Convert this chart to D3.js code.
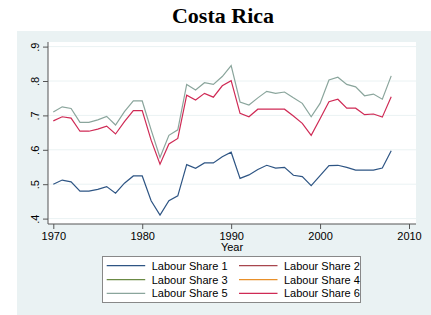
<!DOCTYPE html>
<html>
<head>
<meta charset="utf-8">
<script src="https://cdn.jsdelivr.net/npm/d3@7"></script>
<style>
  body { margin: 0; background: #fff; }
  text { font-family: "Liberation Sans", Arial, sans-serif; }
</style>
</head>
<body>
<svg id="chart" width="431" height="315"></svg>
<script>
// years 1970..2008
let years = d3.range(1970, 2009);

let share1 = [0.500, 0.512, 0.507, 0.480, 0.480, 0.485, 0.493, 0.474, 0.503, 0.524,
              0.524, 0.452, 0.410, 0.452, 0.466, 0.557, 0.546, 0.562, 0.562, 0.580,
              0.593, 0.517, 0.527, 0.543, 0.555, 0.547, 0.549, 0.526, 0.522, 0.496,
              0.525, 0.554, 0.555, 0.549, 0.541, 0.541, 0.541, 0.547, 0.597];
// shares 2-4 have no data for Costa Rica
let share2 = [];
let share3 = [];
let share4 = [];
let share5 = [0.710, 0.725, 0.720, 0.680, 0.680, 0.687, 0.697, 0.672, 0.711, 0.742,
              0.742, 0.658, 0.578, 0.642, 0.658, 0.790, 0.774, 0.795, 0.790, 0.813,
              0.845, 0.739, 0.730, 0.751, 0.770, 0.764, 0.768, 0.751, 0.735, 0.696,
              0.735, 0.803, 0.811, 0.790, 0.783, 0.757, 0.762, 0.747, 0.815];
let share6 = [0.684, 0.696, 0.692, 0.654, 0.654, 0.660, 0.669, 0.646, 0.682, 0.714,
              0.714, 0.628, 0.558, 0.617, 0.633, 0.759, 0.745, 0.764, 0.753, 0.786,
              0.801, 0.706, 0.696, 0.718, 0.718, 0.718, 0.718, 0.698, 0.677, 0.642,
              0.690, 0.740, 0.747, 0.721, 0.721, 0.702, 0.704, 0.695, 0.754];

let seriesNames = ["Labour Share 1", "Labour Share 2", "Labour Share 3",
                   "Labour Share 4", "Labour Share 5", "Labour Share 6"];
let seriesColors = ["#2e5584", "#a8464e", "#6b8a45", "#e8902a", "#8aa59c", "#cf2a55"];
let yTicks = [0.4, 0.5, 0.6, 0.7, 0.8, 0.9];
let xTicks = [1970, 1980, 1990, 2000, 2010];

let allSeries = [share1, share2, share3, share4, share5, share6];

let svg = d3.select("#chart");

// outer graph region
svg.append("rect")
    .attr("x", 17).attr("y", 31)
    .attr("width", 414).attr("height", 284)
    .attr("fill", "#eaf2f3");

svg.append("text")
    .text("Costa Rica")
    .attr("x", 223).attr("y", 23)
    .attr("text-anchor", "middle")
    .style("font-family", "'Liberation Serif', 'Times New Roman', serif")
    .style("font-weight", "bold")
    .style("font-size", "22px");

let plot = { left: 48, right: 416, top: 42, bottom: 224 };

svg.append("rect")
    .attr("x", plot.left).attr("y", plot.top)
    .attr("width", plot.right - plot.left).attr("height", plot.bottom - plot.top)
    .attr("fill", "#fff");

let x = d3.scaleLinear().domain([1970, 2010]).range([53.3, 409]);
let y = d3.scaleLinear().domain([0.4, 0.9]).range([218.6, 46.6]);

// gridlines
svg.append("g")
    .selectAll("line")
    .data(yTicks)
    .join("line")
    .attr("x1", plot.left).attr("x2", plot.right)
    .attr("y1", d => y(d)).attr("y2", d => y(d))
    .attr("stroke", "#eaf2f3")
    .attr("stroke-width", 1);

// y axis
let yAxis = svg.append("g")
    .attr("transform", `translate(${plot.left},0)`)
    .call(d3.axisLeft(y).tickValues(yTicks).tickSize(5).tickFormat(d => d3.format(".1f")(d).replace(/^0/, "")));
yAxis.select(".domain").attr("d", `M0,${plot.top}V${plot.bottom}`).attr("stroke", "#555");
yAxis.selectAll(".tick line").attr("stroke", "#555");
yAxis.selectAll(".tick text")
    .attr("x", null).attr("dy", null)
    .attr("transform", "translate(-9,0) rotate(-90)")
    .attr("text-anchor", "middle")
    .style("font-size", "11px")
    .attr("fill", "#000");

// x axis
let xAxis = svg.append("g")
    .attr("transform", `translate(0,${plot.bottom})`)
    .call(d3.axisBottom(x).tickValues(xTicks).tickSize(5).tickFormat(d3.format("d")));
xAxis.select(".domain").attr("d", `M${plot.left},0H${plot.right}`).attr("stroke", "#555");
xAxis.selectAll(".tick line").attr("stroke", "#555");
xAxis.selectAll(".tick text")
    .attr("y", 8)
    .style("font-size", "11px")
    .attr("fill", "#000");

svg.append("text")
    .text("Year")
    .attr("x", 232).attr("y", 251)
    .attr("text-anchor", "middle")
    .style("font-size", "11px");

// series lines
let line = d3.line()
    .defined(d => d != null)
    .x((d, i) => x(years[i]))
    .y(d => y(d));

svg.append("g")
    .selectAll("path")
    .data(allSeries)
    .join("path")
    .attr("d", d => line(d))
    .attr("fill", "none")
    .attr("stroke", (d, i) => seriesColors[i])
    .attr("stroke-width", 1.2);

// legend
let legend = svg.append("g");
legend.append("rect")
    .attr("x", 102.5).attr("y", 256.5)
    .attr("width", 258).attr("height", 46)
    .attr("fill", "#fff")
    .attr("stroke", "#888");

let rowY = [265.7, 279.7, 293.3];
let colX = [106.7, 239];

let items = legend.selectAll("g.item")
    .data(seriesNames)
    .join("g")
    .attr("transform", (d, i) => `translate(${colX[i % 2]},${rowY[Math.floor(i / 2)]})`);

items.append("line")
    .attr("x1", 0).attr("x2", 38.5)
    .attr("stroke", (d, i) => seriesColors[i])
    .attr("stroke-width", 1.2);

items.append("text")
    .text(d => d)
    .attr("x", 45)
    .attr("dy", "0.35em")
    .style("font-size", "11px");
</script>
</body>
</html>
